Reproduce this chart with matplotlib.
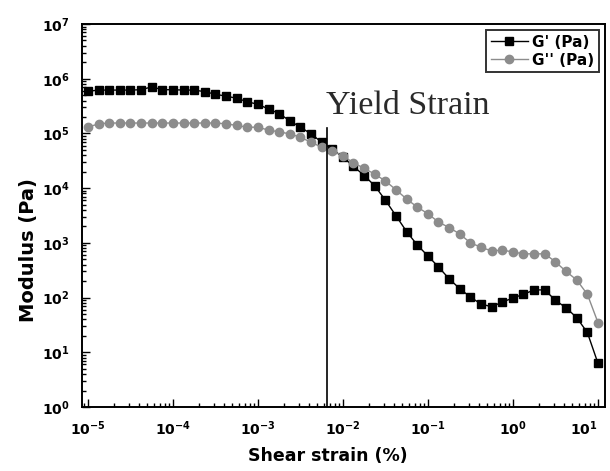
import matplotlib
matplotlib.use("Agg")
import matplotlib.pyplot as plt
from matplotlib.ticker import LogLocator, NullFormatter

# =========================
# DATA
# =========================
strain = [1.00e-5, 1.33e-5, 1.78e-5, 2.37e-5, 3.16e-5, 4.22e-5, 5.62e-5, 7.50e-5,
          1.00e-4, 1.33e-4, 1.78e-4, 2.37e-4, 3.16e-4, 4.22e-4, 5.62e-4, 7.50e-4,
          1.00e-3, 1.33e-3, 1.78e-3, 2.37e-3, 3.16e-3, 4.22e-3, 5.62e-3, 7.50e-3,
          1.00e-2, 1.33e-2, 1.78e-2, 2.37e-2, 3.16e-2, 4.22e-2, 5.62e-2, 7.50e-2,
          1.00e-1, 1.33e-1, 1.78e-1, 2.37e-1, 3.16e-1, 4.22e-1, 5.62e-1, 7.50e-1,
          1.00, 1.33, 1.78, 2.37, 3.16, 4.22, 5.62, 7.50, 10.0]

g_storage = [5.9e5, 6.2e5, 6.2e5, 6.2e5, 6.2e5, 6.3e5, 7.1e5, 6.3e5,
             6.3e5, 6.2e5, 6.2e5, 5.8e5, 5.2e5, 4.8e5, 4.4e5, 3.8e5,
             3.4e5, 2.8e5, 2.3e5, 1.7e5, 1.3e5, 9.8e4, 6.9e4, 5.1e4,
             3.7e4, 2.5e4, 1.7e4, 1.1e4, 6.0e3, 3.1e3, 1.6e3, 910,
             575, 363, 219, 145, 102, 76, 68, 83,
             98, 115, 138, 138, 89, 65, 43, 23, 6.3]

g_loss = [1.3e5, 1.5e5, 1.55e5, 1.55e5, 1.55e5, 1.55e5, 1.55e5, 1.55e5,
          1.55e5, 1.55e5, 1.55e5, 1.55e5, 1.55e5, 1.5e5, 1.4e5, 1.3e5,
          1.3e5, 1.15e5, 1.07e5, 9.8e4, 8.5e4, 6.9e4, 5.6e4, 4.8e4,
          3.9e4, 2.9e4, 2.3e4, 1.8e4, 1.35e4, 9.3e3, 6.3e3, 4.5e3,
          3.4e3, 2.4e3, 1.9e3, 1.45e3, 1.0e3, 830, 710, 740,
          680, 630, 630, 630, 450, 300, 210, 115, 35]

yield_strain = 6.5e-3
yield_top = 1.25e5

x_exponents = [-5, -4, -3, -2, -1, 0, 1]
y_exponents = [0, 1, 2, 3, 4, 5, 6, 7]

# =========================
# PLOT
# =========================
plt.rcParams['font.family'] = ['DejaVu Sans']
plt.rcParams['mathtext.fontset'] = 'dejavusans'

fig = plt.figure(figsize=(6.1, 4.71), dpi=100)
ax = fig.add_axes([0.1344, 0.1359, 0.8574, 0.8131])

ax.plot(strain, g_storage, color='black', lw=1.0, marker='s', ms=5.5,
        label="G' (Pa)")
ax.plot(strain, g_loss, color='#8c8c8c', lw=1.0, marker='o', ms=6,
        label="G'' (Pa)")

# yield strain line
ax.plot([yield_strain, yield_strain], [1, yield_top], color='black', lw=1.2)
ax.text(yield_strain * 0.97, 2.3e5, 'Yield Strain', family='Liberation Serif',
        fontsize=24.5, color='#2a2a2a', ha='left', va='baseline')

ax.set_xscale('log')
ax.set_yscale('log')
ax.set_xlim(8.5e-6, 12.1)
ax.set_ylim(1, 1e7)

ax.set_xticks([10.0 ** e for e in x_exponents])
ax.set_xticklabels([r'$\mathbf{10^{%d}}$' % e for e in x_exponents])
ax.set_yticks([10.0 ** e for e in y_exponents])
ax.set_yticklabels([r'$\mathbf{10^{%d}}$' % e for e in y_exponents])
ax.xaxis.set_minor_locator(LogLocator(base=10, subs=range(2, 10), numticks=20))
ax.yaxis.set_minor_locator(LogLocator(base=10, subs=range(2, 10), numticks=20))
ax.xaxis.set_minor_formatter(NullFormatter())
ax.yaxis.set_minor_formatter(NullFormatter())

ax.tick_params(which='both', direction='in', top=False, right=False,
               labelsize=10, width=1.0)
ax.tick_params(which='major', length=6, pad=9)
ax.tick_params(which='minor', length=3)
# last x label sits at the figure edge, nudge it in a bit
ax.get_xticklabels()[-1].set_horizontalalignment('right')
ax.get_xticklabels()[-1].set_x(10.0)

for s in ax.spines.values():
    s.set_linewidth(1.4)

ax.set_xlabel('Shear strain (%)', fontsize=12.5, fontweight='bold')
ax.set_ylabel('Modulus (Pa)', fontsize=14, fontweight='bold')
ax.xaxis.set_label_coords(0.47, -0.105)
ax.yaxis.set_label_coords(-0.085, 0.41)

leg = ax.legend(loc='upper right', frameon=True, fancybox=False,
                edgecolor='black', handlelength=2.4, handletextpad=0.3,
                borderpad=0.3, labelspacing=0.2, borderaxespad=0.4,
                prop={'weight': 'bold', 'size': 11})
leg.get_frame().set_linewidth(1.4)

fig.savefig('out.png', dpi=100)
